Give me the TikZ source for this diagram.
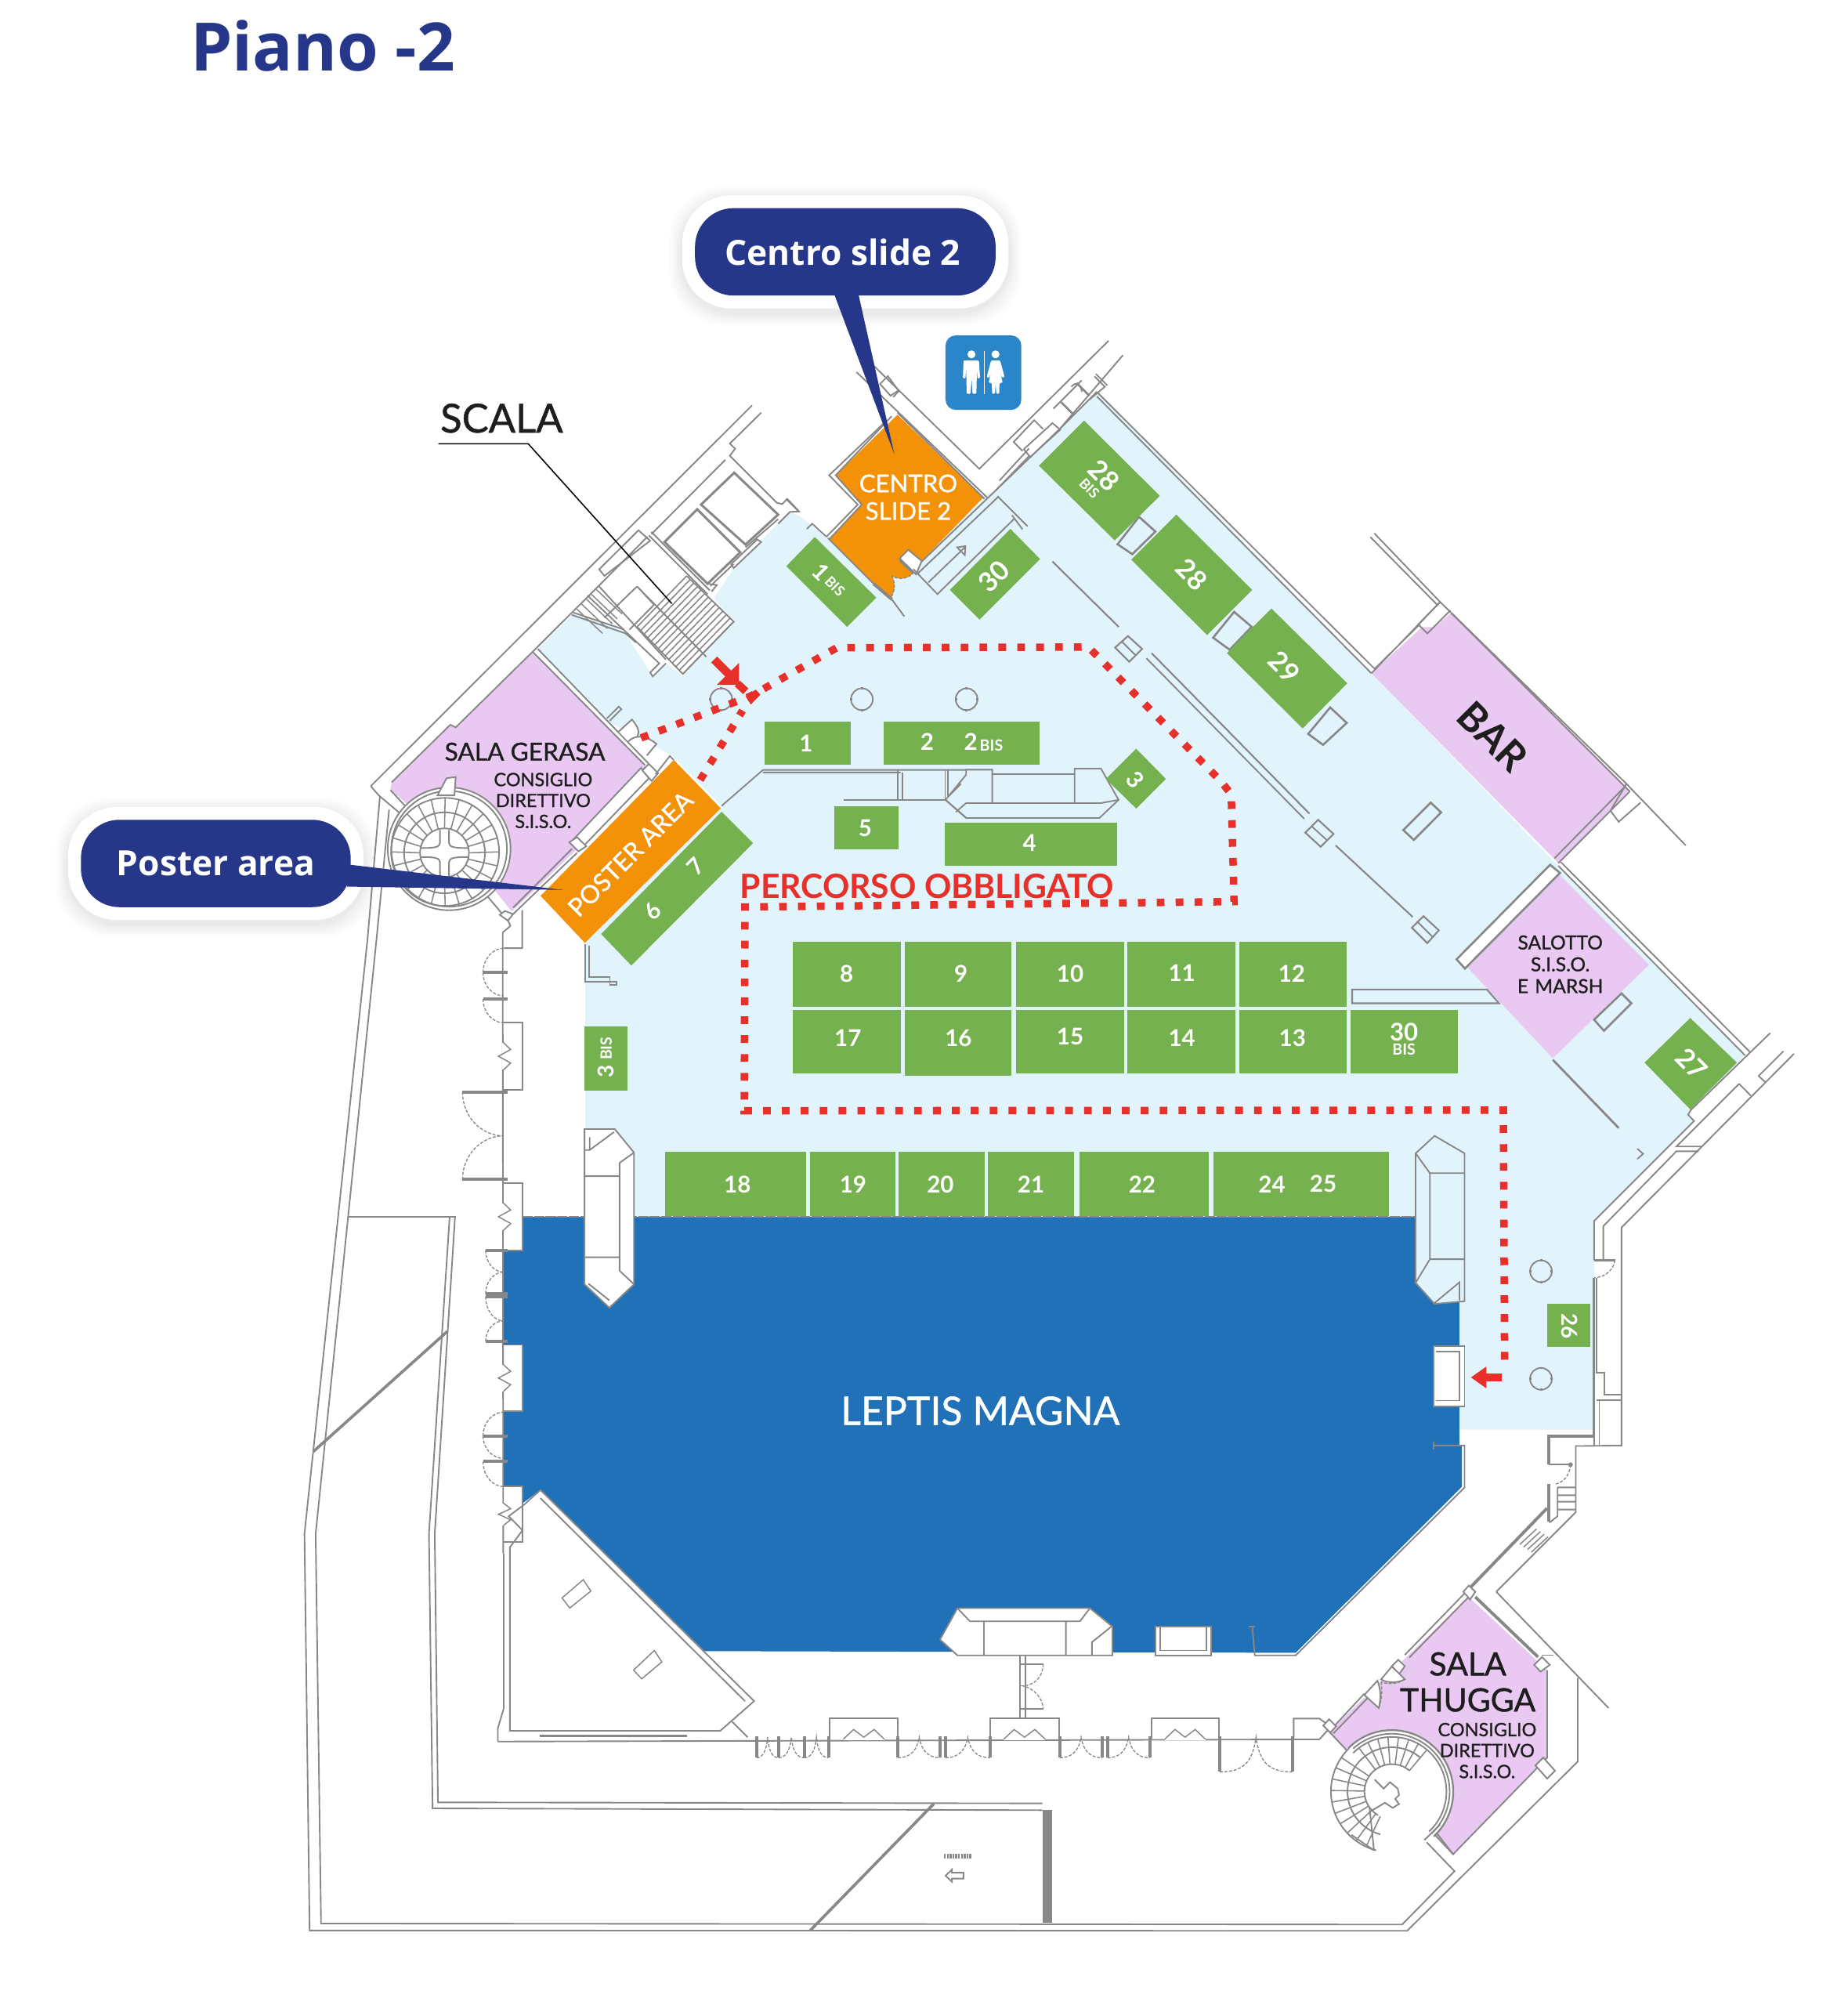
\documentclass[tikz,border=0pt]{standalone}
\usepackage{fontspec}
\setmainfont{Lato}
\newfontfamily\callfont{Open Sans}
\newfontfamily\medfont{Lato}[FakeBold=1.0]
\usetikzlibrary{calc}
\definecolor{floorc}{HTML}{E1F3FB}
\definecolor{greenc}{HTML}{75B14E}
\definecolor{orangec}{HTML}{F39208}
\definecolor{purplec}{HTML}{E9C9F1}
\definecolor{hallc}{HTML}{2071B8}
\definecolor{navyc}{HTML}{26378A}
\definecolor{redc}{HTML}{E8302A}
\definecolor{wallc}{HTML}{878787}
\definecolor{inkc}{HTML}{1E1E1E}
\definecolor{wcblue}{HTML}{2A86C8}
\newcommand{\fsz}[1]{\fontsize{#1}{#1}\selectfont}
\tikzset{
  wall/.style={draw=wallc,line width=1.15pt,line join=miter},
  thinwall/.style={draw=wallc,line width=.8pt},
  thickwall/.style={draw=wallc,line width=2.4pt},
  doorarc/.style={draw=wallc,line width=.8pt,dash pattern=on 2.4pt off 1.2pt},
  stand/.style={fill=greenc,draw=none},
  route/.style={draw=redc,line width=5.8pt,dash pattern=on 6pt off 8.7pt},
  num/.style={text=white,inner sep=0pt,font=\bfseries\fsz{18}},
  smallnum/.style={text=white,inner sep=0pt,font=\bfseries\fsz{11}},
  ink/.style={text=inkc,inner sep=0pt,align=center},
  pill/.style={fill=navyc,rounded corners=30pt,draw=none},
  halo/.style={fill=white,rounded corners=38pt,draw=none},
  pillar/.style={wall,fill=floorc},
}
\newcommand{\colmn}[2]{%
  \draw[wall,fill=floorc] (#1,#2) circle[radius=8.5pt];
  \draw[wallc,line width=1.8pt] (#1-9.3,#2)--(#1-7.5,#2) (#1+9.3,#2)--(#1+7.5,#2) (#1,#2-9.3)--(#1,#2-7.5) (#1,#2+9.3)--(#1,#2+7.5);}
% door on the left facade: x-left, y of the leaf, y where the swing meets the wall
\newcommand{\larc}[3]{%
  \draw[thickwall] (#1,#2)--(395,#2);
  \draw[doorarc] (#1,#2) .. controls (#1,{#2+(#3-#2)*.55}) and ({392-(392-#1)*.55},#3) .. (392,#3);}
% double door on the bottom facade: x1, x2, y-end
\newcommand{\bdoor}[3]{%
  \draw[thickwall] (#1,1351)--(#1,#3) (#2,1351)--(#2,#3);
  \draw[doorarc] (#1,#3) .. controls ({#1+(#2-#1)*.3},#3) and ({#1+(#2-#1)*.45},{#3-6}) .. ({(#1+#2)/2},1352)
     .. controls ({#1+(#2-#1)*.55},{#3-6}) and ({#1+(#2-#1)*.7},#3) .. (#2,#3);}
\newcommand{\lbay}[2]{%
  \draw[white,line width=2pt] (392,{#1+(#2-#1)*.3})--(392,{#1+(#2-#1)*.7});
  \draw[wall] (392,#1)--(406.7,#1)--(406.7,#2)--(392,#2);
  \draw[wall,line width=.9pt] (392,{#1+(#2-#1)*.3})--(397.5,{#1+(#2-#1)*.4})--(388,{#1+(#2-#1)*.5})--(397.5,{#1+(#2-#1)*.6})--(392,{#1+(#2-#1)*.7});}
\newcommand{\bbay}[2]{%
  \draw[white,line width=2pt] ({#1+(#2-#1)*.2},1353.5)--({#1+(#2-#1)*.8},1353.5);
  \draw[wall] (#1,1353)--(#1,1337.5)--(#2,1337.5)--(#2,1353);
  \draw[wall,line width=.9pt] ({#1+(#2-#1)*.2},1353.5)--({#1+(#2-#1)*.35},1346)--({#1+(#2-#1)*.5},1352)--({#1+(#2-#1)*.65},1346)--({#1+(#2-#1)*.8},1353.5);}
\begin{document}
\begin{tikzpicture}[x=1pt,y=-1pt]
\useasboundingbox (0,0) rectangle (1424,1569);
\fill[white] (0,0) rectangle (1424,1569);

% ---------- floor
\fill[floorc] (418.7,505.1)--(446.1,477.7)--(485,490)--(506.1,523.4)--(508,526.5)--(518.3,516.3)--(531.5,526)--(571.1,483.8)--(555.9,465.5)--(572,441)--(592,421)--(614.9,398.4)--(622,401.5)--(630.1,407.6)--(643.3,418.7)
  --(765.4,385.7)--(774.5,382.2)--(853.8,304.9)--(1067.5,524)--(1213,673.8)--(1358.4,821.4)--(1316,864)--(1314,867.5)--(1318.7,872.4)--(1240.8,950.3)--(1240.8,1112.7)--(1136.1,1112.7)
  --(1136,947)--(455.6,947)--(455.6,733.9)--(561.7,627.2)--(523.9,588.7)--(511.7,581.7)--(471.4,560.7)--cycle;

% ---------- Leptis Magna
\fill[hallc] (406.7,947)--(1136,947)--(1136,1125)--(1138,1125)--(1138,1157)--(1008.6,1286.3)--(548.4,1285)--(420.7,1159.6)--(406.7,1170)--(406.7,1157)
  --(391.7,1157)--(391.7,1098.2)--(406.7,1098.2)--(406.7,1046.7)--(391.7,1046.7)--(391.7,973.2)--(406.7,973.2)--cycle;

% ---------- purple rooms
\fill[purplec] (414.6,507.2)--(499,592)--(502.1,597)--(445.2,654.5)--(450,660)--(398.4,709.4)--(386.2,694.2)--(315,624)--(303.9,614.9)--(304.9,608.8)--(350.6,564)--(354.7,566.1)--cycle;
\fill[purplec] (1067.5,524)--(1107,488)--(1117,488)--(1129.6,477)--(1268.6,616)--(1213,671.7)--cycle;
\fill[purplec] (1213,680)--(1283.6,750.8)--(1208.7,823.6)--(1142.4,753)--cycle;
\fill[purplec] (1143.3,1242.9)--(1204.3,1299.8)--(1204.3,1367.9)--(1131.1,1443.1)--(1120,1432)--(1083,1394)--(1050.8,1364.9)--(1034.6,1347.6)--cycle;

% ---------- orange rooms
\fill[orangec] (698.6,322.8)--(765.3,387.2)--(717.5,436.6)--(707,427.9)--(700.3,434.6)--(711.5,445.2) .. controls (708,450) and (700,452) .. (694.2,448.2)
  .. controls (697,453) and (697,460) .. (693.2,465.5)--(680,454.3)--(645.4,419.8)--(670.8,392.7)--(650.5,369.9)--cycle;
\fill[orangec] (524.5,591.5)--(561,629.1)--(455.3,733.8)--(420.8,697.2)--cycle;

% ---------- outer building lines
\draw[wall] (295.7,620)--(286,731.7)--(237,1193.7)--(241,1502.4)--(1095.3,1502.7)--(1228.1,1371)--(1228.1,1305.9);
\draw[wall] (302.9,630.1)--(293,731.7)--(245.7,1193.7)--(249.9,1497)--(1091.4,1497.8)--(1132.2,1456.3)--(1108.8,1432)--(1116.9,1424.8);
\draw[wall] (1116.9,1424.8)--(1131.1,1443.1);
\draw[wall] (271.3,947)--(354.2,947)--(338.4,1193.7)--(340.9,1402.7)--(811.4,1403.5);
\draw[wall] (350,947)--(333.9,1193.7)--(336.7,1407.4)--(811.4,1408.8);
\draw[wallc,line width=2.2pt] (243.9,1129.7)--(348.2,1036.2);
\draw[wallc,line width=2.2pt] (727,1403.7)--(630.7,1502.4);
\fill[wallc] (811.4,1408.8) rectangle (819.2,1496.6);
\draw[wallc,line width=4pt,dash pattern=on 1.4pt off .8pt] (734.8,1444.7)--(756.2,1444.7);
\draw[wall] (736,1459.8)--(741,1455)--(741,1457.5)--(750,1457.5)--(750,1462)--(741,1462)--(741,1464.5)--cycle;
\draw[wall] (1164.7,1238.8)--(1252.1,1329.3);

% ---------- left facade
\draw[wall] (391.3,725.7)--(391.7,1209);
\draw[wall] (406.5,708.4)--(406.5,737.9)--(392.3,737.9) (397.4,720.6)--(391.3,725.7);
\draw[wallc,line width=1.5pt] (396.9,1204.2)--(396.9,1347) (392,1209)--(392,1330);
\lbay{795.8}{848.3}\lbay{920.7}{973.2}\lbay{1046.7}{1098.2}
\larc{376}{757}{738}\larc{376}{757}{775}\larc{376}{777.5}{796}
\larc{360}{849.8}{884}\larc{360}{918}{884}
\larc{378}{973}{990}\larc{378}{1007}{990}\larc{378}{1009}{1028}\larc{378}{1044}{1028}
\larc{376}{1117.6}{1099}\larc{376}{1117.6}{1135}\larc{376}{1137.5}{1157}
\lbay{1157}{1200}
% L near poster
\draw[wall] (455.3,734.8)--(455.3,764.3)--(479.7,764.3)--(479.7,766.5)--(474.7,766.5)--(474.7,760.3)--(458.4,760.3)--(458.4,735.8);
% triangle room
\draw[wall] (420.7,1159.6)--(587,1323.9)--(560.7,1347)--(396.9,1347)--(396.9,1204.2)--(406.7,1191)--(396,1180)--(408,1171)--cycle;
\draw[wall] (420.7,1166)--(580,1324);
\draw[wall,line width=.9pt] (437.5,1243.6)--(454,1229.4)--(459.9,1238.3)--(443.5,1251.5)--cycle;
\draw[wall,line width=.9pt] (493.2,1299.8)--(509.3,1284.5)--(515.2,1293.4)--(499.5,1306.6)--cycle;
% bottom facade
\draw[wall] (387.5,1355.4)--(1027.3,1353.7);
\draw[wall] (392,1330)--(387.5,1345)--(387.5,1355.4);
\draw[wallc,line width=1.6pt] (420,1351)--(535,1351);
\draw[wall] (570,1340)--(582,1352);
\bdoor{589}{606}{1368}\bdoor{606}{626}{1368}\bdoor{626}{645}{1368}
\bbay{645.8}{699}\bdoor{699}{732}{1368}\bdoor{736}{770.6}{1368}
\bbay{770.6}{824.3}\bdoor{825}{858}{1368}\bdoor{862}{895}{1368}
\bbay{896.2}{948.7}\bdoor{949.5}{1005.9}{1379}
\draw[wall] (1007,1353)--(1007,1337.5)--(1027,1337.5)--(1036,1344);
\draw[wall] (1027,1353.7)--(1034,1346);
\draw[wall] (798,1288)--(798,1337) (794,1288)--(794,1337);
\draw[wall] (794,1295)--(812,1295) (794,1330)--(812,1330);
\draw[doorarc] (812,1295) .. controls (812,1305) and (805,1312) .. (796,1312) .. controls (805,1314) and (812,1322) .. (812,1330);

% ---------- Leptis inner fittings
\draw[wallc,line width=1.2pt,dash pattern=on 8pt off 1pt] (406.7,947)--(1101.9,947);
\draw[wall,fill=white] (455,878.7)--(478.5,878.7)--(493.5,897)--(493.5,999.5)--(474.3,1017.8)--(455,999.5)--cycle;
\draw[wall] (482.3,905)--(482.3,989) (455,915.4)--(482.3,915.4) (455,978.5)--(482.3,978.5) (482.3,905)--(493.5,897) (482.3,989)--(493.5,999.5) (459,895)--(478,881) (455,895)--(459,895)--(459,885) (458,999)--(474.3,1012);
\draw[wall,fill=floorc] (1116.7,884)--(1140,897.6)--(1140,1012.7)--(1116.7,1014.8)--(1101.9,998.4)--(1101.9,897.6)--cycle;
\draw[wall] (1113,913)--(1140,913) (1113,913)--(1113,980) (1113,980)--(1140,980) (1101.9,897.6)--(1113,913) (1101.9,998.4)--(1113,980) (1116.7,1014)--(1136,998)--(1136,1012);
\draw[wall,fill=white] (731.7,1276)--(745.3,1251.6)--(848.4,1251.6)--(865.9,1265.9)--(865.9,1288.3)--(745.3,1288.3)--cycle;
\draw[wall] (765.9,1261.8)--(765.9,1288.3) (829.7,1261.8)--(829.7,1288.3) (755,1261.8)--(840.6,1261.8) (745.3,1251.6)--(755,1261.8) (848.4,1251.6)--(840.6,1261.8) (850,1288)--(850,1278)--(865,1266);
\draw[wall,fill=white] (899.7,1265.9) rectangle (942.9,1288.3);
\draw[wall] (903,1266)--(903,1284.5)--(939,1284.5)--(939,1266);
\draw[wall] (974.8,1265.9)--(976.7,1288.3)--(1008.6,1288.3)--(1140,1157.7)--(1140,1125)--(1116,1125);
\draw[wall] (1116,1122)--(1116,1128);
\draw[wall] (972,1265.9)--(977,1265.9);
\draw[wall,fill=white] (1115.9,1047.4) rectangle (1140,1094.4);
\draw[wall] (1118,1052)--(1136,1052)--(1136,1090)--(1118,1090);

% ---------- scala block
\draw[wall] (288.6,611.8)--(585.4,315.5);
\draw[wall] (288.6,611.8)--(294.7,618.9)--(314,635.2) (303.9,614.9)--(317.1,629.1);
\draw[wall] (592.5,321.2)--(568.1,345.2)--(572.2,349.2)--(568.1,354.7)--(604.7,391.3)--(608.8,392.3)--(612.8,388.3)--(622,398)--(614.9,398.4)--(605.7,407.6);
\draw[wall] (564.6,357.8)--(507.1,415.7);
\draw[wall] (304.9,608.8)--(350.6,564)--(354.7,566.1)--(414.6,507.2)--(466,456)--(504,417.7);
\draw[wall] (466.4,443.1)--(497,412.7)--(506.1,420.8)--(470.5,448.2)--cycle;
\draw[wall] (505.1,416.7)--(550.8,462.5) (507,414)--(552.5,459.5);
\draw[wallc,line width=1.8pt] (545.7,392.7)--(571.5,367.9)--(605.7,400.5)--(580.3,423.8)--cycle;
\draw[wallc,line width=1.8pt] (517.3,421.8)--(542.7,396.4)--(576.2,429.9)--(550.8,454.3)--cycle;
\draw[wall] (569.1,439.1)--(589.4,419.8)--(592.5,421.8)--(571.1,442.1)--cycle;
\draw[wall] (580.3,426)--(605.7,404) (550.8,454.3)--(558,455.3)--(553.9,460.4) (553,456)--(571,439);
\fill[white] (495.9,487.9)--(534.5,448.2)--(571.1,483.8)--(531.5,524.5)--cycle;
\foreach \i in {0,...,13}{
  \draw[wallc,line width=.95pt] ({534.5+\i*36.6/13},{448.2+\i*35.6/13})--({495.9+\i*35.6/13},{487.9+\i*36.6/13});
}
\draw[wall] (534.5,448.2)--(571.1,483.8)--(531.5,524.5)--(495.9,487.9);
\foreach \i in {0,...,4}{
  \draw[wallc,line width=.9pt] ({449+\i*3.8},{474-\i*3.8})--({449+\i*3.8+20},{474-\i*3.8+19});
}
\draw[wall] (466.4,456.4)--(518.3,513.3);
\draw[wall] (457.3,463.5)--(513.2,516.3)--(506.1,523.4)--(508.1,526.5)--(518.3,516.3);
\draw[wall] (446.1,476.7)--(485.8,489.9) (445,478.5)--(487,493)--(495,500);
\draw[wall] (495.9,456.4)--(549.8,511.2) (495.9,456.4)--(470.5,480.8) (495.9,456.4)--(509.1,470.6)--(490,490);
% scala leader
\coordinate (leadA) at (341.2,345.4);
\coordinate (leadB) at (411.2,345.4);
\coordinate (leadC) at (522.9,469.7);
\draw[black,line width=.95pt] (leadA)--(leadB)--(leadC);

% ---------- gerasa door and walls
\draw[wall] (414.6,507.2)--(502.1,595.6) (418.7,505.1)--(505.1,594.5);
\draw[wall] (472.5,559)--(481.7,549.9)--(483.7,551.9)--(474.6,561);
\fill[white] (481.7,569.2)--(491.9,560) .. controls (497,566) and (498,570) .. (496,573.3)--(489,577)--cycle;
\draw[wall] (481.7,569.2)--(491.9,560) .. controls (497,566) and (498,570) .. (496,573.3);
\fill[white] (489,577) .. controls (495,571) and (504,573) .. (511,579)--(503.5,588)--cycle;
\draw[wall] (489,577) .. controls (495,571) and (504,573) .. (511,579)--(503.5,588);
\draw[wall,fill=white] (445.2,654.5)--(499,597.6)--(505.1,605.7)--(451.3,661.5)--cycle;
\draw[wall] (399.4,706.4)--(445.2,660.6) (399.4,711.4)--(449.2,663.7);
\draw[wall,fill=white] (443.1,655.5)--(449.2,651.5)--(456.4,658.6)--(450.3,662.6)--cycle;
\draw[wall,fill=white] (500,599.6)--(505.1,594.5)--(512.3,601.7)--(507.2,607.8)--cycle;
\draw[wall] (510.2,602.7)--(521.4,588.4)--(524.5,591.5);
\draw[wall] (374,691.1)--(395.4,716.5);
\draw[wall,fill=white] (389,712)--(393,709)--(399.4,711.4)--(395.4,716.5)--cycle;
\draw[wall] (397.4,720.6)--(395.4,716.5);
% gerasa spiral
\draw[wall,fill=white] (349.6,660.6) circle[radius=47.8pt];
\draw[wall] (349.6,660.6) circle[radius=45pt];
\draw[wall] (346.5,663) circle[radius=42pt];
\draw[wall] (346,663.7) circle[radius=31.5pt];
\draw[wall] (346,663.7) circle[radius=19pt];
\foreach \a in {0,15,...,345}{
  \draw[wallc,line width=.95pt] ({346+19*cos(\a)},{663.7+19*sin(\a)})--({346.5+42*cos(\a)},{663+42*sin(\a)});
}
\draw[wall] (342.5,646)--(342.5,656) .. controls (342,659) and (340,660) .. (328,660);
\draw[wall] (349.5,646)--(349.5,656) .. controls (350,659) and (352,660) .. (364,660);
\draw[wall] (342.5,682)--(342.5,671) .. controls (342,668) and (340,667) .. (328,667);
\draw[wall] (349.5,682)--(349.5,671) .. controls (350,668) and (352,667) .. (364,667);
\draw[wall,fill=white] (340.5,619)--(347.6,605.7)--(354.7,604.7)--(353.7,619)--cycle;

% ---------- central structure
\draw[wall] (561.7,627.2)--(593.9,599.2)--(772.4,599.2) (593.9,601.2)--(701,601.2);
\draw[wall] (656.9,622.6)--(702.4,622.6) (698.9,599.2)--(698.9,622.6) (702.4,601)--(702.4,622.6);
\draw[wall] (735.7,599.2)--(735.7,622.6) (738,599.2)--(738,622.6) (702,622.6)--(736,622.6);
\draw[wall,fill=floorc] (736,622.5)--(752,603)--(752,599)--(772.4,599)--(772.4,602.5)--(836.5,602.5)--(836.5,598.2)--(857,598.2)--(870.7,622.5)--(855.8,636.6)--(752.2,636.6)--cycle;
\draw[wall] (772.4,602.5)--(772.4,625) (836.5,602.5)--(836.5,625) (752,625)--(857,625) (736,622.5)--(752,636.6) (857,625)--(870.7,622.5) (752,625)--(744,632);
\draw[wall] (748,610)--(738,620);

% ---------- central long walls
\draw[wall,line width=1.3pt] (819.2,437)--(870.8,487.9);
\draw[wall,line width=1.3pt] (896.4,508.3)--(1019.2,633.2);
\draw[wall] (892.4,512.3)--(1015.2,637.2);
\draw[wall,line width=1.3pt] (1039.7,658)--(1099.6,713.6);
\draw[pillar,line width=1.3pt] (868,504)--(878,495)--(889,505)--(879,515)--cycle;
\draw[wall] (873,499)--(884,510);
\draw[pillar,line width=1.3pt] (1016,648)--(1026,638)--(1038,649)--(1028,659)--cycle;
\draw[wall] (1021,643)--(1033,654);
\draw[pillar,line width=1.3pt] (1099,722)--(1108,713)--(1120,724)--(1111,734)--cycle;
\draw[wall] (1103,717)--(1115,729);
\foreach \p in {{(869.9,423.6)--(886.6,402.2)--(899.4,413.7)--(881.4,431.3)},{(944.3,496.3)--(960.6,476.2)--(974.3,487.8)--(957.2,505.7)},{(1018.3,571.2)--(1035.4,550.6)--(1048.3,562.6)--(1029.9,579.7)},{(1092.3,646)--(1113.7,624.7)--(1121.8,632.3)--(1100.5,653.7)},{(1240.8,793.6)--(1262.2,773.1)--(1269.9,780.8)--(1248.5,802.2)}}{
  \draw[wallc,line width=1.6pt] \p--cycle;
}
\draw[wallc,line width=1.6pt,fill=white] (1133.8,746.6)--(1206.6,673)--(1214.3,679.4)--(1140.3,753.8)--cycle;
\draw[wall,line width=1.3pt,fill=floorc] (1052.5,770.1)--(1157.4,770.1)--(1166.8,780.8)--(1052.5,780.8)--cycle;
\draw[wallc,line width=1.7pt] (1208.7,824.8)--(1260,877.9);
\draw[wall] (1274.5,894)--(1279,898)--(1274.5,902);

% ---------- north-east outer walls
\draw[wall] (853.8,305)--(1070,520.5) (853.8,308.5)--(1067.5,524);
\draw[wall] (1070,520.5)--(1105,486) (1067.5,524)--(1121,468.5);
\draw[wall] (1069.7,415)--(1121,468.5)--(1266,610)--(1312.2,658);
\draw[wall] (1066.7,418)--(1119,471);
\draw[wall] (1129.6,477)--(1268.6,616);
\draw[wall] (1268.6,616)--(1213,671.7) (1265,612)--(1210,668);
\draw[wall] (1266,610)--(1253.6,631)--(1260,639.6)--(1277,624.6);
\draw[wall] (1121,468.5)--(1104,486)--(1111,493)--(1129,475);
\draw[wall] (1215,671)--(1362,818.5) (1213,673.8)--(1358.4,821.4);
% ---------- south-east walls
\draw[wall] (1378,803.9)--(1316.1,863.9)--(1314,867.5)--(1318.7,872.4)--(1240.8,950.3)--(1240.8,980.8);
\draw[wall] (1353.7,843.5)--(1304.9,892.3)--(1324.2,892.3);
\draw[wall] (1353.7,843.5)--(1362.8,852.7);
\draw[wall] (1396.4,820.1)--(1262.2,955.3)--(1262.2,1125)--(1226.6,1125.4)--(1226.6,1176.9)--(1164.7,1238.8);
\draw[wall] (1388.2,818.1)--(1368.9,837.4)--(1374,842.1);
\draw[wall] (1322.2,896)--(1304.9,896)--(1248,954.3)--(1248,980.8);
\draw[thickwall,line width=1.8pt] (1240.8,980.8)--(1257.1,980.8);
\draw[doorarc] (1257.1,980.8) .. controls (1256,988) and (1250,994) .. (1240.8,994.4);
\draw[wall,line width=1.6pt] (1240.8,994.4)--(1240.8,1117.9);
\draw[wall] (1243,994.4)--(1243,1068.1)--(1249,1068.1)--(1249,1085.4)--(1262.2,1085.4);
\draw[wall] (1243,1089.5)--(1262.2,1089.5) (1244.9,1089.5)--(1244.9,1125) (1241,1117.9)--(1241,1125);
\draw[thickwall] (1204.2,1117.9)--(1240.8,1117.9) (1205.3,1116.9)--(1205.3,1139.9);
\draw[wall,line width=1.4pt] (1205.3,1139.9)--(1222.5,1139.9);
\fill[wallc] (1222.5,1139.9) circle[radius=1.8pt];
\draw[doorarc] (1222.5,1139.9) .. controls (1222,1148) and (1217,1154) .. (1210.3,1155.1);
\draw[thickwall] (1205.3,1155.1)--(1205.3,1184);
\draw[wall] (1212.4,1157.6)--(1226.6,1157.6) (1212.4,1163.7)--(1226.6,1163.7) (1212.4,1168.7)--(1226.6,1168.7) (1212.4,1174.8)--(1226.6,1174.8) (1212.4,1157.6)--(1212.4,1180)--(1206,1185);
\draw[thickwall] (1204.2,1173.8)--(1144,1236);
\foreach \i in {0,...,3}{\draw[wallc,line width=.9pt] ({1183+\i*3},{1202+\i*-3+\i*5})--({1196+\i*3},{1190+\i*-3+\i*5});}

% ---------- north stub and centro slide walls
\draw[wall] (666.7,289.6)--(768.4,387.2);
\draw[wall] (677.9,282.5)--(762.3,364.9)--(862.9,265.2);
\draw[wall] (698.6,321.2)--(766.3,388.2);
\draw[wall] (685,298.8)--(691.1,292.7)--(699.3,303.9)--(693.2,308)--cycle;
\draw[wall] (695.2,309)--(700,304);
\draw[wall] (688,329.3)--(645.4,369.9)--(667.7,392.7)--(643.3,417.7);
\draw[wall] (694,324)--(650.5,369.9)--(670.8,392.7)--(645.4,419.8);
\draw[wall] (628.1,411.6)--(632.2,407.6)--(643.3,417.7);
\draw[wall] (611.8,388.2)--(622,398.4);
\draw[wall] (644.4,418.7)--(680,454.3);
\draw[thickwall] (680,454.3)--(694.2,466.5);
\draw[wall] (694.2,466.5)--(703.9,479.7);
\draw[wall] (774.5,382.2)--(717.5,437) (777.5,386.2)--(714.5,446.2);
\draw[wall,fill=white] (717.5,436.6)--(707,427.9)--(700.3,434.6)--(713,447)--cycle;
\draw[thickwall,line width=1.8pt] (700.3,436)--(711,446);
\draw[doorarc] (711.5,445.2) .. controls (708,450) and (700,452) .. (694.2,448.2);
\draw[doorarc] (694.2,448.2) .. controls (697,453) and (697,460) .. (693.2,465.5);
\draw[wall] (711,443)--(729.7,462.4)--(789.7,403.5) (776.5,386.2)--(799.9,409.6) (787.7,401)--(796,412);
\draw[wall] (722.6,453.3)--(751.1,425.9) (745,426)--(751.5,425)--(751,432)--cycle;
% roof stubs
\draw[wall] (874.1,276.4)--(825.3,333.4)--(774.5,382.2);
\draw[wall] (796.9,349.6)--(819.2,329.3)--(825.3,334.4)--(801.9,355.7)--cycle;
\draw[wall] (825.3,333.4)--(853.8,304.9);
\draw[wall] (796,351)--(789,344)--(805,327)--(812,334);
\draw[wall] (801,355)--(774.5,382.2) (801,349)--(778,374);
\draw[wall] (820,318)--(842,296);
\draw[wall,line width=1.6pt] (826,313)--(836,323);
\draw[wall,line width=1.6pt] (838,298)--(848,308);
\draw[wall] (852,293)--(860,301)--(848,311) (853,291)--(862,300);
\draw[wall] (834,301) .. controls (838,296) and (842,300) .. (842,305);

% ---------- sala thugga walls
\draw[wall] (1140.3,1239.8)--(1093.5,1288) (1144,1242)--(1097,1290);
\draw[thickwall] (1148.4,1242.9)--(1197.2,1289.6);
\draw[wall] (1062,1318.1)--(1034.6,1347.6)--(1050.8,1364.9) (1066,1320)--(1038,1349);
\draw[wall] (1204.3,1299.8)--(1204.3,1367.9)--(1131.1,1443.1)--(1116.9,1428);
\draw[wall] (1200.3,1288.2)--(1209.4,1288.2);
\draw[wall,fill=white] (1139,1238.8)--(1143.3,1234)--(1148.4,1238.8)--(1144.3,1244.9)--cycle;
\draw[wall,fill=white] (1194.2,1295.7)--(1200.3,1289.6)--(1206.4,1295.7)--(1199.2,1301)--cycle;
\draw[wall,fill=white] (1195.2,1374)--(1201.3,1367.9)--(1210.4,1378.1)--(1204.3,1384.2)--cycle;
\draw[wall,fill=white] (1083.4,1296.8)--(1088.4,1291.7)--(1093.5,1296.8)--(1089,1302.9)--cycle;
\draw[wall,fill=white] (1030,1343)--(1034.6,1338)--(1040,1343.5)--(1035.5,1348.5)--cycle;
\draw[wall,fill=white] (1083.4,1297)--(1093.5,1306.9) .. controls (1088,1310) and (1080,1310) .. (1075,1307)--cycle;
\draw[doorarc] (1093.5,1306.9) .. controls (1088,1311) and (1080,1311) .. (1075,1309);
\draw[wall,fill=white] (1062,1319.1)--(1072.2,1308) .. controls (1075,1315) and (1075,1322) .. (1073.2,1329.3)--cycle;
\draw[doorarc] (1075,1309) .. controls (1076,1316) and (1076,1322) .. (1073.2,1329.3);
% thugga spiral
\fill[white] (1083.4,1394.3) circle[radius=47.8pt];
\draw[wall,line width=1.4pt] plot[domain=-47:135,samples=60] ({1083.4+47.8*cos(\x)},{1394.3-47.8*sin(\x)});
\draw[wall] plot[domain=-47:132,samples=60] ({1083.4+45*cos(\x)},{1394.3-45*sin(\x)});
\draw[wall] plot[domain=-47:135,samples=60] ({1083.4+42.5*cos(\x)},{1394.3-42.5*sin(\x)});
\draw[wall] plot[domain=135:255,samples=40] ({1083.4+47.4*cos(\x)},{1394.3-47.4*sin(\x)});
\draw[wall] plot[domain=50:255,samples=50] ({1083.4+34.5*cos(\x)},{1394.3-34.5*sin(\x)});
\draw[wall] plot[domain=50:240,samples=50] ({1083.4+21.3*cos(\x)},{1394.3-21.3*sin(\x)});
\foreach \a in {50,61,...,135}{
  \draw[wallc,line width=.95pt] ({1083.4+21.3*cos(\a)},{1394.3-21.3*sin(\a)})--({1083.4+42.5*cos(\a)},{1394.3-42.5*sin(\a)});
}
\foreach \a in {146,157,...,245}{
  \draw[wallc,line width=.95pt] ({1083.4+21.3*cos(\a)},{1394.3-21.3*sin(\a)})--({1083.4+47.4*cos(\a)},{1394.3-47.4*sin(\a)});
}
\draw[wall] (1069.5,1440.1)--(1066,1406) (1069.5,1440.1)--(1052,1428);
\draw[wall] (1070,1385)--(1077,1392)--(1082,1387)--(1088,1392)--(1089,1397)--(1086,1400)--(1089,1404)--(1084,1407)--(1078,1403)--(1068,1409);
\draw[wall] (1108.8,1432)--(1121,1420);

% ---------- columns
\colmn{561.4}{544.2}\colmn{670.9}{544.2}\colmn{752.4}{544.2}\colmn{1199.5}{989.4}\colmn{1199.5}{1073.1}

% ---------- stands
\fill[stand] (561.7,631.7)--(586.2,656.2)--(491.4,751.4)--(467.9,726.9)--cycle;
\fill[stand] (634.2,417.9)--(682.1,465.1)--(659.4,487.9)--(612.1,440.6)--cycle;
\fill[stand] (786.5,411.6)--(809.6,435.1)--(762.5,482.2)--(739.4,459.1)--cycle;
\fill[stand] (843.8,327.3)--(902.8,385.9)--(867.7,420.6)--(808.7,362.4)--cycle;
\fill[stand] (915.7,400.5)--(974.7,459.1)--(939.6,494.2)--(880.6,435.6)--cycle;
\fill[stand] (989.7,473.6)--(1048.7,531.8)--(1014,566.9)--(955,508.3)--cycle;
\fill[stand] (884.4,582.7)--(907.5,606.2)--(884.4,629.3)--(860.9,606.2)--cycle;
\fill[stand] (1315.7,792.3)--(1352,827)--(1315.7,863.4)--(1280.1,827)--cycle;
\fill[stand] (595,561.7) rectangle (662.2,595);
\fill[stand] (687.7,561.7) rectangle (809.1,595);
\fill[stand] (649.2,627.2) rectangle (699.6,661.1);
\fill[stand] (735.1,640.5) rectangle (869.4,673.8);
\foreach \xa/\xb in {617/701,704/787,790.7/875,877.6/961.4,964.4/1048.3}{
  \fill[stand] (\xa,732.9) rectangle (\xb,783.8);
  \fill[stand] (\xa,785.9) rectangle (\xb,835.5);
}
\fill[stand] (704,830) rectangle (787,837);
\fill[stand] (1051.3,785.9) rectangle (1134.7,835.5);
\foreach \xa/\xb in {518/627.6,630.4/697.2,699.3/766.2,769/835.9,840.2/940.9,944.4/1080.9}{
  \fill[stand] (\xa,896.4) rectangle (\xb,946.2);
}
\fill[stand] (454.7,798.9) rectangle (488.3,848.8);
\fill[stand] (1204.6,1014.8) rectangle (1238,1048.2);

% ---------- route
\draw[route] (499,574.3)--(584.4,541.7)--(651.4,504.1)--(656.5,504.1)--(847.2,503.6)--(949.9,607.5)--(958.4,618.2)--(960.6,701.7)--(579.9,705.9)--(579.3,864.5)--(1170.2,864)--(1171.2,1061.7);
\draw[route] (545,607)--(578,553);
\draw[redc,line width=6pt] (574,532)--(580.5,538);
\fill[redc] (580.3,541.7)--(588.4,536.7)--(591.9,540.7)--(584.4,548.3)--cycle;
\draw[redc,line width=6.5pt] (555.9,513.3)--(569.1,526.5);
\fill[redc] (558,533)--(575.2,533)--(575.2,515.9)--cycle;
\draw[redc,line width=5.5pt] (1169.2,1072)--(1155,1072);
\fill[redc] (1145,1072)--(1157,1063.5)--(1157,1080.5)--cycle;

% ---------- WC icon
\fill[wcblue,rounded corners=8pt] (736,261) rectangle (795,319);
\fill[white] (756.2,275.8) circle[radius=3.1pt] (774.9,275.8) circle[radius=3.1pt];
\fill[white,rounded corners=.8pt] (750,280.5)--(762,280.5)--(762.9,294.5)--(760.8,294.5)--(760.5,286)--(760,306.5)--(757,306.5)--(756.3,294)--(755.5,306.5)--(752.5,306.5)--(752,286)--(751.5,294.5)--(749.5,294.5)--cycle;
\fill[white,rounded corners=.8pt] (771.5,280.5)--(778.5,280.5)--(782,293.5)--(780,294)--(778,287)--(780.5,298)--(778,298)--(777.8,306.5)--(775.5,306.5)--(775,298)--(774.5,306.5)--(772.3,306.5)--(772,298)--(769.5,298)--(772,287)--(770,294)--(768,293.5)--cycle;
\draw[white,line width=.8pt] (766,273)--(766,306.5);

% ---------- callouts
\foreach \e/\o in {20/.012,16/.014,12/.016,8/.018,4/.02}{
  \fill[black,opacity=\o,rounded corners=42pt] ($(531,152)+(-\e*0.5,-\e*0.5+3)$) rectangle ($(785,240)+(\e*0.5,\e*0.5+3)$);
  \fill[black,opacity=\o,rounded corners=42pt] ($(53,628)+(-\e*0.5,-\e*0.5+3)$) rectangle ($(283,716)+(\e*0.5,\e*0.5+3)$);
}
\fill[halo] (531,152) rectangle (785,240);
\fill[halo] (53,628) rectangle (283,716);
\fill[navyc] (649,228)--(668,228)--(696.2,353.7)--cycle;
\fill[navyc] (270,672.7)--(438.2,692.6)--(270,690)--cycle;
\fill[pill] (541,162) rectangle (775,230);
\fill[pill] (63,638) rectangle (273,706);
\node[text=white,inner sep=0pt,font=\callfont\bfseries\fsz{27}] (centrocall) at (656,196) {Centro slide 2};
\node[text=white,inner sep=0pt,font=\callfont\bfseries\fsz{27}] (postercall) at (168,672) {Poster area};
\node[text=navyc,inner sep=0pt,anchor=base west,font=\callfont\bfseries\fsz{52}] (title) at (148,55) {Piano -2};

% ---------- texts
\node[text=inkc,inner sep=0pt,font=\medfont\fsz{31}] (scala) at (390.5,325.5) {SCALA};
\node[text=white,inner sep=0pt,font=\medfont\fsz{30.5}] (leptis) at (763,1098) {LEPTIS MAGNA};
\node[text=redc,inner sep=0pt,font=\bfseries\fsz{26}] (percorso) at (721.5,689.5) {PERCORSO OBBLIGATO};
\node[ink,font=\bfseries\fsz{31},rotate=-45] (bar) at (1162,573) {BAR};
\node[ink,font=\medfont\fsz{15},text width=80pt] (salotto) at (1214.5,750.5) {SALOTTO\\[2pt]S.I.S.O.\\[2pt]E MARSH};
\node[ink,font=\medfont\fsz{19.3}] (gerasa) at (408.6,585) {SALA GERASA};
\node[ink,font=\medfont\fsz{14.3},text width=90pt] (cdg) at (422.8,623) {CONSIGLIO\\[2pt]DIRETTIVO\\[2pt]S.I.S.O.};
\node[ink,font=\medfont\fsz{25},text width=120pt] (thugga) at (1142.5,1309) {SALA\\[3pt]THUGGA};
\node[ink,font=\medfont\fsz{14.3},text width=90pt] (cdt) at (1157.6,1362.4) {CONSIGLIO\\[2pt]DIRETTIVO\\[2pt]S.I.S.O.};
\node[text=white,inner sep=0pt,align=center,font=\medfont\fsz{19}] (centro) at (707,387) {CENTRO\\[2.5pt]SLIDE 2};
\node[text=white,inner sep=0pt,font=\medfont\fsz{19.5},rotate=45] (poster) at (490.7,664.5) {POSTER AREA};

% ---------- stand numbers
\node[num,rotate=45] (n6) at (508,709) {6};
\node[num,rotate=45] (n7) at (541.4,674.4) {7};
\node[num,rotate=-45] (n1b) at (639.4,445) {1};
\node[smallnum,rotate=-45] (n1bb) at (649.9,456.3) {BIS};
\node[num,rotate=45,font=\bfseries\fsz{21}] (n30) at (773.6,448.4) {30};
\node[num,rotate=-45,font=\bfseries\fsz{21}] (n28b) at (859.2,370.1) {28};
\node[smallnum,rotate=-45] (n28bb) at (848,380) {BIS};
\node[num,rotate=-45,font=\bfseries\fsz{21}] (n28) at (927.6,447.1) {28};
\node[num,rotate=-45,font=\bfseries\fsz{21}] (n29) at (999.9,519) {29};
\node[num,rotate=-50] (n3) at (883.6,606.7) {3};
\node[num,rotate=-45,font=\bfseries\fsz{21}] (n27) at (1316.9,827.9) {27};
\node[num] (n1) at (627.5,578.5) {1};
\node[num] (n2) at (721.7,577.5) {2};
\node[num] (n2b) at (755.6,577.5) {2};
\node[smallnum,font=\bfseries\fsz{12}] (n2bb) at (771.7,580) {BIS};
\node[num] (n5) at (673.5,644.5) {5};
\node[num] (n4) at (801.4,655.9) {4};
\node[num] (n8) at (659,758) {8};
\node[num] (n9) at (748,758) {9};
\node[num] (n10) at (833,758) {10};
\node[num] (n11) at (920,757.5) {11};
\node[num] (n12) at (1005.5,757.5) {12};
\node[num] (n17) at (660,808) {17};
\node[num] (n16) at (746,808) {16};
\node[num] (n15) at (833,807) {15};
\node[num] (n14) at (920,808) {14};
\node[num] (n13) at (1006,808) {13};
\node[num,font=\bfseries\fsz{19}] (n30b) at (1092.8,803.5) {30};
\node[smallnum,font=\bfseries\fsz{12}] (n30bb) at (1092.8,817) {BIS};
\node[num] (n18) at (574,922) {18};
\node[num] (n19) at (664,922) {19};
\node[num] (n20) at (732,922) {20};
\node[num] (n21) at (802.5,922) {21};
\node[num] (n22) at (889,922) {22};
\node[num] (n24) at (990,922) {24};
\node[num] (n25) at (1030,921) {25};
\node[num,rotate=90,font=\bfseries\fsz{17}] (n3b) at (471.8,834) {3};
\node[smallnum,rotate=90,font=\bfseries\fsz{12}] (n3bb) at (471.8,816) {BIS};
\node[num,rotate=-90,font=\bfseries\fsz{17}] (n26) at (1221.5,1032) {26};
\end{tikzpicture}
\end{document}
